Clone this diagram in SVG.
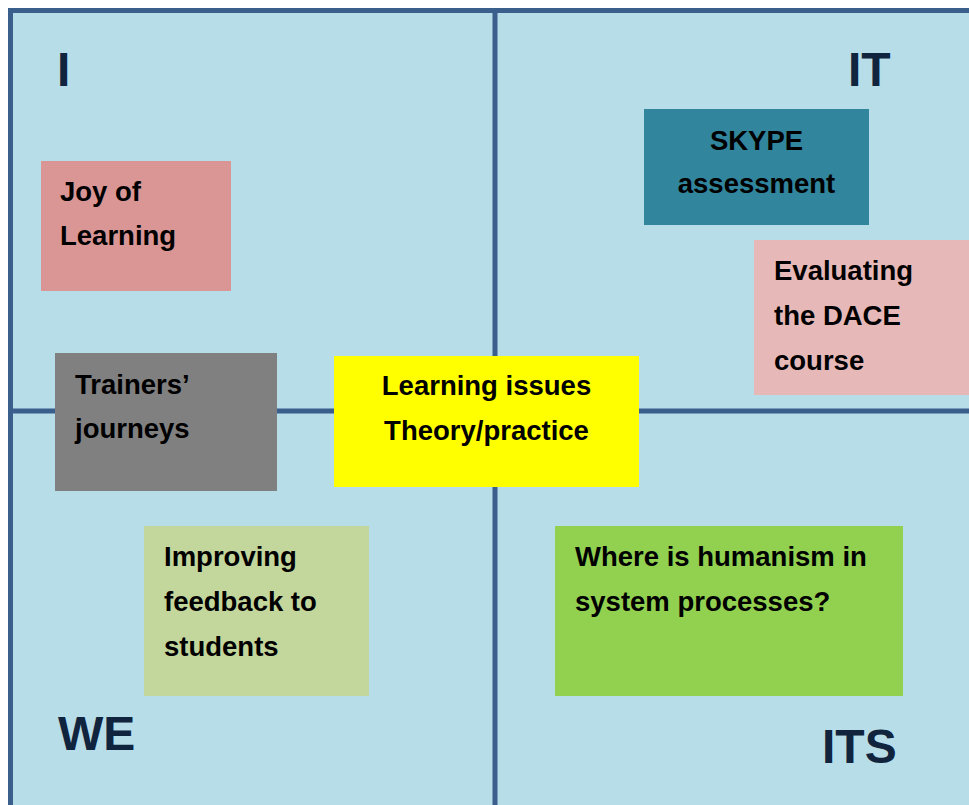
<svg xmlns="http://www.w3.org/2000/svg" width="969" height="805" viewBox="0 0 969 805">
<style>
.bg{fill:#b7dde8}
.ln{stroke:#3b5f8c;stroke-width:5;fill:none}
.q{font-family:"Liberation Sans",Arial,sans-serif;font-weight:bold;font-size:48px;fill:#10243e}
.t{font-family:"Liberation Sans",Arial,sans-serif;font-weight:bold;font-size:27.5px;fill:#000}
.c{text-anchor:middle}
</style>
<rect x="0" y="0" width="969" height="805" fill="#ffffff"/>
<rect class="bg" x="10.5" y="10.5" width="960" height="800"/>
<g id="grid">
<path class="ln" d="M10.5 805 V10.5 H969"/>
<path class="ln" d="M495 10.5 V805"/>
<path class="ln" d="M10.5 411 H969"/>
</g>
<g id="quadrant-labels">
<text class="q" x="57" y="86">I</text>
<text class="q" x="848" y="86">IT</text>
<text class="q" x="58" y="749.5">WE</text>
<text class="q" x="822" y="763">ITS</text>
</g>
<g id="joy">
<rect x="41" y="161" width="190" height="130" fill="#d99694"/>
<text class="t" x="60" y="201">Joy of</text>
<text class="t" x="60" y="245">Learning</text>
</g>
<g id="trainers">
<rect x="55" y="353" width="222" height="138" fill="#808080"/>
<text class="t" x="75" y="394">Trainers’</text>
<text class="t" x="75" y="438">journeys</text>
</g>
<g id="learning">
<rect x="334" y="356" width="305" height="131" fill="#ffff00"/>
<text class="t c" x="486.5" y="395">Learning issues</text>
<text class="t c" x="486.5" y="440">Theory/practice</text>
</g>
<g id="skype">
<rect x="644" y="109" width="225" height="116" fill="#31859c"/>
<text class="t c" x="756.5" y="150">SKYPE</text>
<text class="t c" x="756.5" y="193">assessment</text>
</g>
<g id="evaluating">
<rect x="754" y="240" width="215" height="155" fill="#e6b9b8"/>
<text class="t" x="774" y="280">Evaluating</text>
<text class="t" x="774" y="325">the DACE</text>
<text class="t" x="774" y="370">course</text>
</g>
<g id="improving">
<rect x="144" y="526" width="225" height="170" fill="#c3d69b"/>
<text class="t" x="164" y="566">Improving</text>
<text class="t" x="164" y="611">feedback to</text>
<text class="t" x="164" y="656">students</text>
</g>
<g id="humanism">
<rect x="555" y="526" width="348" height="170" fill="#92d050"/>
<text class="t" x="575" y="566">Where is humanism in</text>
<text class="t" x="575" y="611">system processes?</text>
</g>
</svg>
